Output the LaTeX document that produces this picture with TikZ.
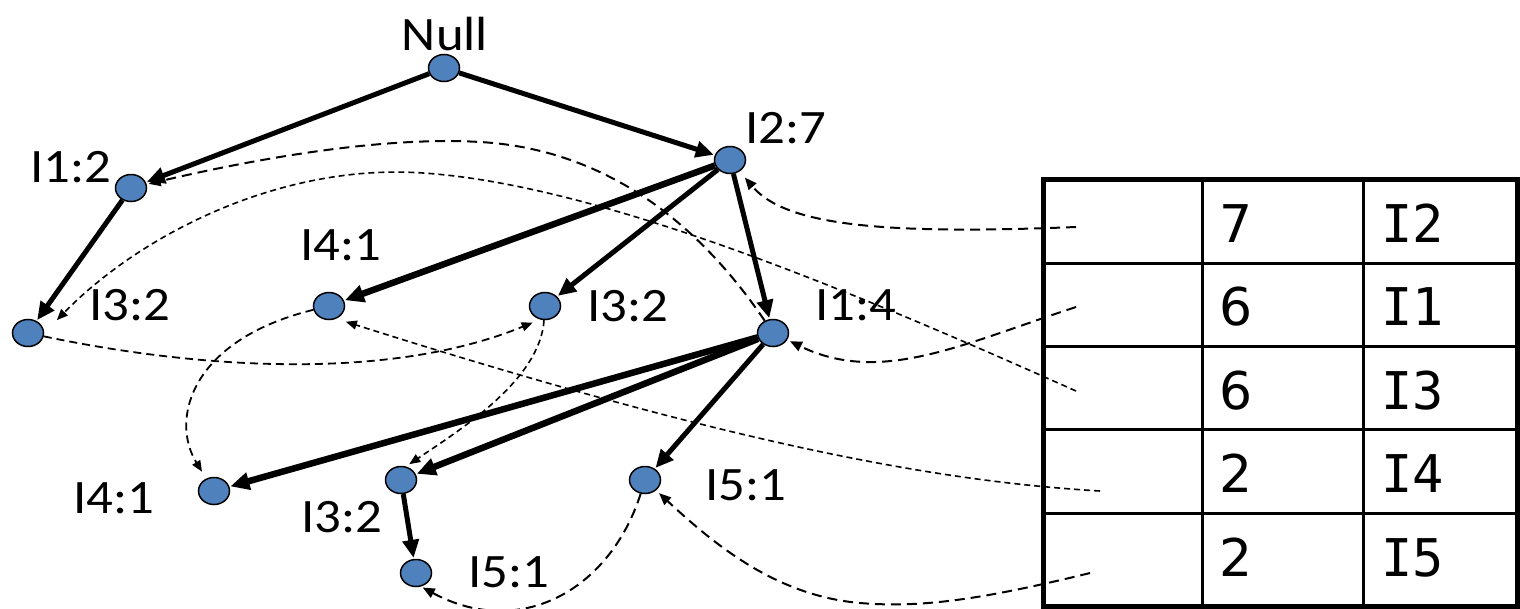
\documentclass[tikz,border=0pt]{standalone}
\usepackage{fontspec}
\usetikzlibrary{arrows.meta,shapes.geometric}
\newfontfamily\lblfont[FakeStretch=1.1]{Carlito}
\newfontfamily\tabfont{DejaVu Sans}
\newfontfamily\tabmono{DejaVu Sans Mono}
\definecolor{nodeblue}{HTML}{4F81BD}
\begin{document}
\begin{tikzpicture}[x=1pt,y=-1pt,
  dot/.style={ellipse, draw=black, line width=1.5pt, fill=nodeblue,
    minimum width=31pt, minimum height=27pt, inner sep=0pt},
  lbl/.style={anchor=base, inner sep=0pt, font=\lblfont\fontsize{48}{52}\selectfont},
  tabnum/.style={anchor=base west, inner sep=0pt, font=\tabfont\fontsize{52}{60}\selectfont},
  tabitem/.style={anchor=base west, inner sep=0pt, font=\tabmono\fontsize{52}{60}\selectfont},
  solidarrow/.style={line width=5pt, shorten >=1pt, -{Triangle[length=18pt,width=16pt]}},
  boldarrow/.style={line width=6.5pt, shorten >=1pt, -{Triangle[length=19pt,width=17pt]}},
  dashlong/.style={line width=2pt, dash pattern=on 10pt off 6pt, -{Triangle[length=12pt,width=10pt]}},
  dashmid/.style={line width=1.8pt, dash pattern=on 8pt off 5pt, -{Triangle[length=11pt,width=9pt]}},
  dashshort/.style={line width=1.6pt, dash pattern=on 6pt off 4pt, -{Triangle[length=11pt,width=9pt]}}
]
\useasboundingbox (0,0) rectangle (1520,608);

% table
\draw[line width=3pt] (1202,179) -- (1202,606) (1363,179) -- (1363,606)
  (1043,263) -- (1517,263) (1043,346) -- (1517,346)
  (1043,429) -- (1517,429) (1043,513) -- (1517,513);
\draw[line width=5pt] (1043,179) rectangle (1517,606);
\node[tabnum] (v1) at (1219,242) {7};
\node[tabnum] (v2) at (1219,325) {6};
\node[tabnum] (v3) at (1219,409) {6};
\node[tabnum] (v4) at (1219,492) {2};
\node[tabnum] (v5) at (1219,576) {2};
\node[tabitem] (n1) at (1381,242) {I2};
\node[tabitem] (n2) at (1381,325) {I1};
\node[tabitem] (n3) at (1381,409) {I3};
\node[tabitem] (n4) at (1381,492) {I4};
\node[tabitem] (n5) at (1381,576) {I5};
\coordinate (c1) at (1076,227);
\coordinate (c2) at (1076,307);
\coordinate (c3) at (1076,391);
\coordinate (c4) at (1100,491);
\coordinate (c5) at (1090,573);

% tree nodes
\node[dot] (null) at (444,68) {};
\node[dot] (i27) at (730,160) {};
\node[dot] (i12) at (131,188) {};
\node[dot] (i32a) at (28,333) {};
\node[dot] (i41a) at (329,306) {};
\node[dot] (i32b) at (545,306) {};
\node[dot] (i14) at (773,333) {};
\node[dot] (i41b) at (214,491) {};
\node[dot] (i32c) at (401,480) {};
\node[dot] (i51a) at (645,480) {};
\node[dot] (i51b) at (416,573) {};

% labels
\node[lbl] (lnull) at (445,50) {Null};
\node[lbl] (l27) at (786,143) {I2:7};
\node[lbl] (l12) at (71,182) {I1:2};
\node[lbl] (l32a) at (130,320) {I3:2};
\node[lbl] (l41a) at (341,260) {I4:1};
\node[lbl] (l32b) at (628,321) {I3:2};
\node[lbl] (l14) at (856,320) {I1:4};
\node[lbl] (l41b) at (114,513) {I4:1};
\node[lbl] (l32c) at (342,532) {I3:2};
\node[lbl] (l51a) at (746,500) {I5:1};
\node[lbl] (l51b) at (509,587) {I5:1};

% dashed node links
\draw[dashlong, shorten >=8pt] (c1) .. controls (880,235) and (785,225) .. (i27);
\draw[dashlong, shorten >=3pt] (c2) .. controls (960,345) and (880,385) .. (i14);
\draw[dashshort, shorten >=18pt] (c3) .. controls (850,290) and (600,185) .. (423,173)
  .. controls (280,163) and (140,235) .. (i32a.east);
\draw[dashshort, shorten >=10pt] (c4) .. controls (950,482) and (750,450) .. (i41a.-60);
\draw[dashlong, shorten >=4pt] (c5) .. controls (980,600) and (920,608) .. (860,603)
  .. controls (780,596) and (720,550) .. (i51a);
\draw[dashlong, shorten >=2pt] (i14) .. controls (710,240) and (620,150) .. (480,142)
  .. controls (380,136) and (250,160) .. (i12);
\draw[dashmid, shorten >=8pt] (i32a) .. controls (180,365) and (380,385) .. (i32b.250);
\draw[dashshort, shorten >=4pt] (i32b) .. controls (540,380) and (460,430) .. (i32c.70);
\draw[dashmid, shorten >=8pt] (i41a) .. controls (190,340) and (170,420) .. (i41b);
\draw[dashlong, shorten >=2pt] (i51a) .. controls (610,590) and (520,640) .. (i51b.-70);

% solid tree edges
\draw[solidarrow] (null) -- (i12);
\draw[solidarrow] (null) -- (i27);
\draw[solidarrow] (i12) -- (i32a);
\draw[boldarrow] (i27) -- (i41a);
\draw[solidarrow] (i27) -- (i32b);
\draw[solidarrow] (i27) -- (i14);
\draw[boldarrow] (i14) -- (i41b);
\draw[boldarrow] (i14) -- (i32c);
\draw[solidarrow] (i14) -- (i51a);
\draw[solidarrow] (i32c) -- (i51b);
\end{tikzpicture}
\end{document}
